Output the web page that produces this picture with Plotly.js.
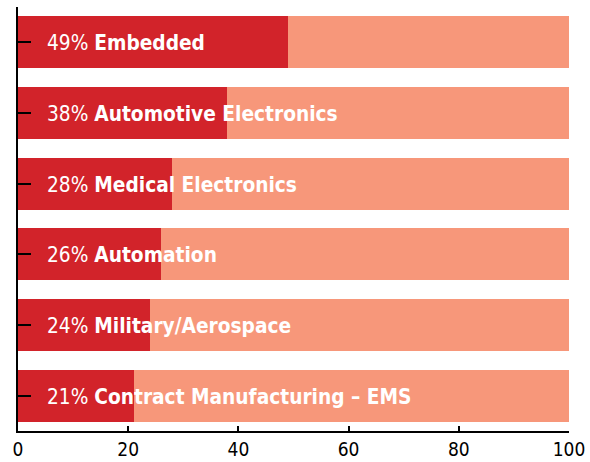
<!DOCTYPE html>
<html>
<head>
<meta charset="utf-8">
<script src="https://cdn.plot.ly/plotly-3.0.1.min.js"></script>
<style>html,body{margin:0;padding:0;background:#fff;}#chart{width:590px;height:462px;}</style>
</head>
<body>
<div id="chart"></div>
<script>
const categories = ["Embedded", "Automotive Electronics", "Medical Electronics", "Automation", "Military/Aerospace", "Contract Manufacturing – EMS"];
const values = [49, 38, 28, 26, 24, 21];
const total = 100;
const remainder = values.map(v => total - v);
const xTicks = [0, 20, 40, 60, 80, 100];

const red = "#D2232A";
const salmon = "#F7977A";
const fontFam = "'DejaVu Sans Condensed', 'DejaVu Sans', sans-serif";

const traces = [
  {type: "bar", orientation: "h", y: categories, x: values, marker: {color: red}, hoverinfo: "none"},
  {type: "bar", orientation: "h", y: categories, x: remainder, marker: {color: salmon}, hoverinfo: "none"}
];

const annotations = categories.map((c, i) => ({
  x: 0, y: c, xref: "x", yref: "y", xanchor: "left", yanchor: "middle",
  xshift: 27, yshift: -1, showarrow: false,
  text: values[i] + "% <b>" + c + "</b>",
  font: {family: fontFam, size: 20.7, color: "#ffffff"}
}));

const layout = {
  width: 590, height: 462,
  margin: {l: 18, r: 21, t: 7, b: 31},
  barmode: "stack", bargap: 0.266,
  showlegend: false,
  paper_bgcolor: "#fff", plot_bgcolor: "#fff",
  xaxis: {range: [0, 100], tickvals: xTicks, ticks: "inside", ticklen: 5, tickwidth: 2, tickcolor: "#000",
          showline: true, linewidth: 2, linecolor: "#000", showgrid: false, zeroline: false,
          tickfont: {family: fontFam, size: 19, color: "#000"}},
  yaxis: {autorange: "reversed", ticks: "inside", ticklen: 13, tickwidth: 2, tickcolor: "#000",
          showticklabels: false, showline: true, linewidth: 2, linecolor: "#000", showgrid: false, zeroline: false},
  annotations: annotations
};

Plotly.newPlot("chart", traces, layout, {displayModeBar: false, staticPlot: true});
</script>
</body>
</html>
